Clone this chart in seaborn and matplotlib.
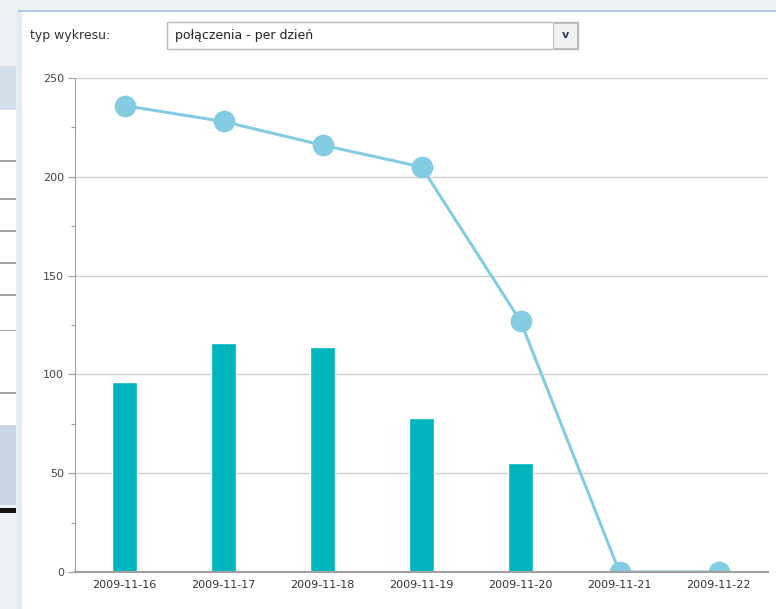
import matplotlib
matplotlib.use("Agg")
import matplotlib.pyplot as plt
import seaborn as sns
import pandas as pd
from matplotlib.patches import Rectangle
from matplotlib.ticker import MultipleLocator

dates = ["2009-11-16", "2009-11-17", "2009-11-18", "2009-11-19",
         "2009-11-20", "2009-11-21", "2009-11-22"]
line_values = [236, 228, 216, 205, 127, 0, 0]
bar_values = [96, 116, 114, 78, 55, 0, 0]
yticks = [0, 50, 100, 150, 200, 250]

df = pd.DataFrame({"date": dates, "line": line_values, "bar": bar_values})

sns.set_style("white")
plt.rcParams['font.family'] = ['DejaVu Sans']

W, H = 776, 609
fig = plt.figure(figsize=(W / 100, H / 100), dpi=100)
fig.patch.set_facecolor("white")

def px_rect(x0, y0, x1, y1, **kw):
    fig.patches.append(Rectangle((x0 / W, 1 - y1 / H), (x1 - x0) / W, (y1 - y0) / H,
                                 transform=fig.transFigure, figure=fig, **kw))

# background decorations (screenshot frame)
px_rect(0, 0, W, 11, facecolor="#eef1f5", edgecolor="none")
px_rect(18, 10, W, 12, facecolor="#b3c9e4", edgecolor="none")
px_rect(0, 0, 18, H, facecolor="#eef1f5", edgecolor="none")
px_rect(0, 66, 16, 110, facecolor="#d3deeb", edgecolor="none")
px_rect(0, 110, 16, 425, facecolor="white", edgecolor="none")
for yy in [160, 198, 230, 262, 294, 330, 392]:
    px_rect(0, yy, 16, yy + 1.5, facecolor="#a0a0a0", edgecolor="none")
px_rect(0, 425, 16, 505, facecolor="#c9d6e6", edgecolor="none")
px_rect(0, 508, 16, 513, facecolor="#111111", edgecolor="none")
px_rect(16, 12, 22, H, facecolor="#e3ecf6", edgecolor="none")

# dropdown
fig.text(30 / W, 1 - 36 / H, "typ wykresu:", fontsize=9, color="#333333", va="center")
px_rect(167, 22, 578, 49, facecolor="white", edgecolor="#b8b8b8", linewidth=1)
px_rect(553, 23, 577, 48, facecolor="#eef0f2", edgecolor="#c0c0c0", linewidth=0.8)
fig.text(175 / W, 1 - 36 / H, "połączenia - per dzień", fontsize=9, color="#222222", va="center")
fig.text(565 / W, 1 - 35 / H, "v", fontsize=8, color="#2b3a55", va="center", ha="center",
         fontweight="bold")

# chart axes
ax = fig.add_axes([75 / W, 1 - 572 / H, (768 - 75) / W, (572 - 78) / H])
ax.set_facecolor("none")

sns.barplot(data=df, x="date", y="bar", color="#00b5bd", saturation=1,
            width=0.245, ax=ax, zorder=2)
sns.pointplot(data=df, x="date", y="line", color="#83cce2", markers="o",
              markersize=14, linewidth=2.2, ax=ax, zorder=3)
for art in ax.lines + ax.collections:
    art.set_clip_on(True)

ax.set_xlim(-0.5, 6.5)
ax.set_ylim(0, 250)
ax.set_yticks(yticks)
ax.yaxis.set_minor_locator(MultipleLocator(25))
ax.set_xlabel("")
ax.set_ylabel("")
ax.grid(axis="y", color="#cfcfcf", linewidth=1, zorder=0)
ax.set_axisbelow(True)
for s in ["top", "right"]:
    ax.spines[s].set_visible(False)
ax.spines["left"].set_color("#a0a0a0")
ax.spines["bottom"].set_color("#a0a0a0")
ax.spines["bottom"].set_linewidth(1.5)
ax.spines["bottom"].set_zorder(5)
ax.tick_params(axis="y", which="major", length=5, width=0.8, color="#a0a0a0",
               labelsize=8, labelcolor="#444444", left=True, pad=3)
ax.tick_params(axis="y", which="minor", length=3, width=0.8, color="#a0a0a0", left=True)
ax.tick_params(axis="x", length=0, labelsize=8, labelcolor="#333333", pad=6)

fig.savefig("out.png", dpi=100)
